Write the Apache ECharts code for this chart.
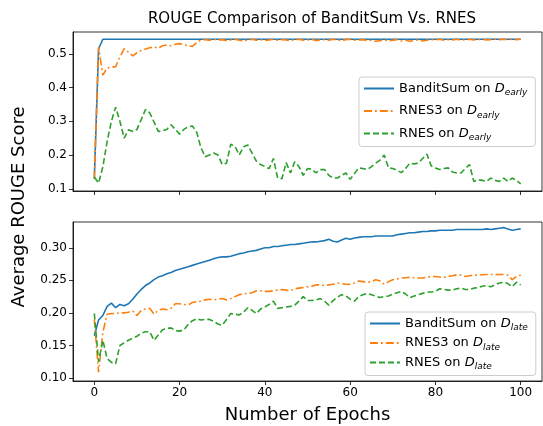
<!DOCTYPE html>
<html>
<head>
<meta charset="utf-8">
<script src="https://cdn.jsdelivr.net/npm/echarts@6/dist/echarts.min.js"></script>
<style>
html,body{margin:0;padding:0;background:#fff;}
#c{width:543px;height:426px;}
</style>
</head>
<body>
<div id="c"></div>
<script>
// ---------- data ----------
const xTicks = [0, 20, 40, 60, 80, 100];
const yTicksTop = [0.1, 0.2, 0.3, 0.4, 0.5];
const yTicksBottom = [0.10, 0.15, 0.20, 0.25, 0.30];

const banditEarly = [
0.130,0.515,0.543,0.543,0.543,0.543,0.543,0.543,0.543,0.543,
0.543,0.543,0.543,0.543,0.543,0.543,0.543,0.543,0.543,0.543,
0.543,0.543,0.543,0.543,0.543,0.543,0.543,0.543,0.543,0.543,
0.543,0.543,0.543,0.543,0.543,0.543,0.543,0.543,0.543,0.543,
0.543,0.543,0.543,0.543,0.543,0.543,0.543,0.543,0.543,0.543,
0.543,0.543,0.543,0.543,0.543,0.543,0.543,0.543,0.543,0.543,
0.543,0.543,0.543,0.543,0.543,0.543,0.543,0.543,0.543,0.543,
0.543,0.543,0.543,0.543,0.543,0.543,0.543,0.543,0.543,0.543,
0.543,0.543,0.543,0.543,0.543,0.543,0.543,0.543,0.543,0.543,
0.543,0.543,0.543,0.543,0.543,0.543,0.543,0.543,0.543,0.543,
0.543];
const rnes3Early = [
0.130,0.520,0.437,0.458,0.460,0.462,0.490,0.515,0.505,0.494,
0.503,0.510,0.514,0.518,0.520,0.516,0.524,0.526,0.524,0.528,
0.530,0.527,0.524,0.522,0.533,0.541,0.542,0.540,0.543,0.541,
0.542,0.539,0.541,0.543,0.540,0.538,0.541,0.543,0.540,0.542,
0.539,0.541,0.543,0.540,0.542,0.541,0.539,0.542,0.543,0.540,
0.541,0.543,0.539,0.541,0.542,0.540,0.543,0.541,0.539,0.542,
0.543,0.540,0.541,0.542,0.539,0.540,0.537,0.539,0.541,0.538,
0.540,0.542,0.538,0.540,0.537,0.539,0.541,0.538,0.540,0.542,
0.541,0.543,0.540,0.542,0.541,0.543,0.540,0.542,0.543,0.541,
0.542,0.543,0.541,0.542,0.543,0.542,0.543,0.542,0.543,0.542,
0.543];
const rnesEarly = [
0.135,0.117,0.165,0.240,0.300,0.342,0.300,0.250,0.275,0.270,
0.276,0.305,0.335,0.325,0.298,0.270,0.272,0.276,0.290,0.276,
0.262,0.276,0.284,0.286,0.268,0.222,0.195,0.200,0.206,0.200,
0.172,0.176,0.232,0.226,0.200,0.225,0.230,0.206,0.182,0.172,
0.166,0.160,0.190,0.132,0.130,0.178,0.147,0.180,0.166,0.140,
0.160,0.158,0.147,0.157,0.157,0.140,0.132,0.132,0.140,0.147,
0.128,0.145,0.162,0.160,0.157,0.166,0.176,0.185,0.200,0.162,
0.160,0.155,0.148,0.160,0.176,0.174,0.176,0.190,0.203,0.168,
0.162,0.157,0.160,0.162,0.150,0.147,0.147,0.160,0.172,0.122,
0.127,0.125,0.122,0.132,0.125,0.122,0.132,0.122,0.132,0.125,
0.115];

const banditLate = [
0.165,0.189,0.196,0.210,0.215,0.208,0.213,0.211,0.214,0.221,
0.229,0.236,0.242,0.246,0.251,0.255,0.257,0.260,0.262,0.265,
0.267,0.269,0.271,0.273,0.275,0.277,0.279,0.281,0.283,0.285,
0.286,0.286,0.287,0.289,0.291,0.292,0.294,0.295,0.296,0.298,
0.300,0.300,0.302,0.302,0.303,0.304,0.305,0.305,0.306,0.307,
0.308,0.309,0.309,0.310,0.311,0.313,0.310,0.309,0.312,0.3145,
0.313,0.315,0.316,0.317,0.317,0.317,0.318,0.318,0.318,0.318,
0.318,0.320,0.321,0.322,0.323,0.323,0.324,0.325,0.325,0.326,
0.326,0.327,0.327,0.327,0.327,0.328,0.328,0.328,0.328,0.328,
0.328,0.328,0.329,0.328,0.329,0.330,0.331,0.329,0.327,0.328,
0.329];
const rnes3Late = [
0.190,0.109,0.170,0.198,0.199,0.199,0.200,0.200,0.201,0.203,
0.196,0.204,0.206,0.207,0.198,0.204,0.206,0.205,0.207,0.214,
0.214,0.213,0.212,0.216,0.217,0.218,0.220,0.221,0.220,0.221,
0.222,0.220,0.222,0.225,0.228,0.229,0.230,0.231,0.234,0.234,
0.233,0.233,0.234,0.235,0.236,0.235,0.234,0.237,0.238,0.239,
0.240,0.241,0.243,0.243,0.242,0.243,0.244,0.246,0.245,0.244,
0.244,0.246,0.249,0.248,0.247,0.248,0.251,0.249,0.244,0.248,
0.251,0.252,0.2535,0.254,0.2545,0.254,0.2535,0.2535,0.255,0.256,
0.256,0.255,0.2545,0.256,0.257,0.2585,0.258,0.256,0.257,0.258,
0.258,0.2587,0.259,0.259,0.2587,0.259,0.259,0.258,0.251,0.256,
0.258];
const rnesLate = [
0.199,0.125,0.158,0.130,0.124,0.122,0.150,0.154,0.158,0.161,
0.164,0.169,0.171,0.171,0.158,0.166,0.174,0.176,0.177,0.173,
0.172,0.174,0.182,0.188,0.191,0.189,0.190,0.190,0.187,0.183,
0.181,0.190,0.199,0.198,0.197,0.201,0.208,0.204,0.199,0.206,
0.209,0.213,0.218,0.207,0.208,0.209,0.210,0.212,0.218,0.225,
0.219,0.219,0.220,0.222,0.218,0.212,0.219,0.224,0.228,0.226,
0.221,0.218,0.225,0.228,0.230,0.228,0.226,0.2235,0.225,0.226,
0.229,0.231,0.233,0.229,0.2235,0.226,0.228,0.230,0.232,0.232,
0.233,0.237,0.236,0.235,0.235,0.237,0.238,0.236,0.236,0.238,
0.239,0.241,0.242,0.240,0.243,0.246,0.247,0.245,0.240,0.247,
0.243];

const namesTop = ['BanditSum on D_early', 'RNES3 on D_early', 'RNES on D_early'];
const namesBottom = ['BanditSum on D_late', 'RNES3 on D_late', 'RNES on D_late'];

// ---------- chart ----------
const FONT = 'DejaVu Sans';
const C_BLUE = '#1f77b4', C_ORANGE = '#ff7f0e', C_GREEN = '#2ca02c';
const DASHDOT = [8, 3, 1.8, 3];
const DASHED = [6, 3];
const pairs = arr => arr.map((v, i) => [i, v]);

function xAxisCfg(gridIndex, showLabels) {
  return {
    type: 'value', gridIndex: gridIndex, min: -5, max: 105,
    splitLine: {show: false},
    axisLine: {show: true, onZero: false, lineStyle: {color: '#000', width: 0.8}},
    axisTick: {show: true, length: 4, customValues: xTicks, lineStyle: {color: '#000', width: 0.8}},
    axisLabel: {show: showLabels, customValues: xTicks, color: '#000', fontFamily: FONT, fontSize: 12, margin: 6},
    name: showLabels ? 'Number of Epochs' : '',
    nameLocation: 'middle', nameGap: 25,
    nameTextStyle: {color: '#000', fontFamily: FONT, fontSize: 18}
  };
}
function yAxisCfg(gridIndex, min, max, ticks, digits) {
  return {
    type: 'value', gridIndex: gridIndex, min: min, max: max,
    splitLine: {show: false},
    axisLine: {show: true, onZero: false, lineStyle: {color: '#000', width: 0.8}},
    axisTick: {show: true, length: 4, customValues: ticks, lineStyle: {color: '#000', width: 0.8}},
    axisLabel: {customValues: ticks, color: '#000', fontFamily: FONT, fontSize: 12, margin: 6,
      formatter: v => v.toFixed(digits)}
  };
}
function lineSeries(name, data, color, type, xi) {
  return {
    name: name, type: 'line', xAxisIndex: xi, yAxisIndex: xi, data: pairs(data),
    symbol: 'none', smooth: false, animation: false,
    lineStyle: {color: color, width: 1.6, type: type},
    itemStyle: {color: color}
  };
}
function legendFormatter(name) {
  const parts = name.split(' on D_');
  return '{n|' + parts[0] + ' on }{d|D}{s|' + parts[1] + '}';
}
const legendRich = {
  n: {fontFamily: FONT, fontSize: 13, color: '#000'},
  d: {fontFamily: FONT, fontSize: 13, fontStyle: 'italic', color: '#000'},
  s: {fontFamily: FONT, fontSize: 9, fontStyle: 'italic', color: '#000', padding: [9, 0, 0, 0]}
};
function legendCfg(names, left, top, gap) {
  return {
    data: names, orient: 'vertical', left: left, top: top,
    itemWidth: 30, itemHeight: 12, itemGap: gap,
    itemStyle: {opacity: 0},
    backgroundColor: 'rgba(255,255,255,0.85)', borderColor: '#cccccc', borderWidth: 1, borderRadius: 3,
    padding: [5, 8, 4, 4],
    formatter: legendFormatter,
    textStyle: {rich: legendRich, fontFamily: FONT, fontSize: 13, color: '#000'}
  };
}

const chart = echarts.init(document.getElementById('c'), null, {renderer: 'canvas'});
chart.setOption({
  animation: false,
  backgroundColor: '#fff',
  title: {
    text: 'ROUGE Comparison of BanditSum Vs. RNES', left: 307, top: 7, textAlign: 'center',
    textStyle: {fontFamily: FONT, fontSize: 15, fontWeight: 'normal', color: '#000'}
  },
  grid: [
    {left: 73, top: 32, width: 469, height: 159, show: true, borderColor: '#000', borderWidth: 0.8, backgroundColor: 'transparent'},
    {left: 73, top: 222, width: 469, height: 159, show: true, borderColor: '#000', borderWidth: 0.8, backgroundColor: 'transparent'}
  ],
  xAxis: [xAxisCfg(0, false), xAxisCfg(1, true)],
  yAxis: [yAxisCfg(0, 0.0936, 0.5645, yTicksTop, 1), yAxisCfg(1, 0.0954, 0.3396, yTicksBottom, 2)],
  legend: [legendCfg(namesTop, 359, 77, 7), legendCfg(namesBottom, 365, 312, 4)],
  graphic: [{
    type: 'text', x: 19, y: 207, rotation: Math.PI / 2,
    style: {text: 'Average ROUGE Score', fontFamily: FONT, fontSize: 18, fill: '#000', align: 'center', verticalAlign: 'middle'}
  }],
  series: [
    lineSeries(namesTop[0], banditEarly, C_BLUE, 'solid', 0),
    lineSeries(namesTop[1], rnes3Early, C_ORANGE, DASHDOT, 0),
    lineSeries(namesTop[2], rnesEarly, C_GREEN, DASHED, 0),
    lineSeries(namesBottom[0], banditLate, C_BLUE, 'solid', 1),
    lineSeries(namesBottom[1], rnes3Late, C_ORANGE, DASHDOT, 1),
    lineSeries(namesBottom[2], rnesLate, C_GREEN, DASHED, 1)
  ]
});
</script>
</body>
</html>
